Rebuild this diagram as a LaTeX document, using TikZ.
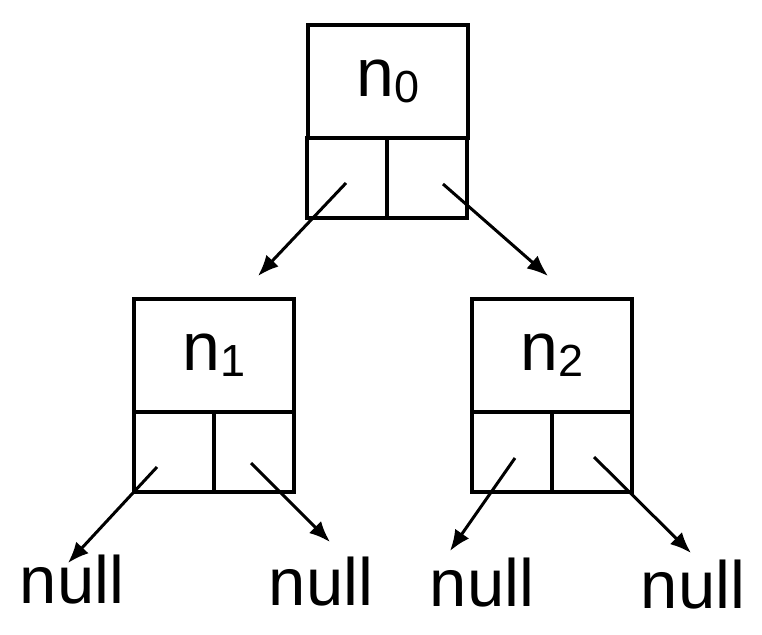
\documentclass[tikz,border=0pt]{standalone}
\usepackage{fontspec}
\setmainfont{Liberation Sans}
\usetikzlibrary{arrows.meta}

\begin{document}
\begin{tikzpicture}[x=1pt,y=-1pt,
  cell/.style={draw, line width=4pt, minimum width=80pt, minimum height=80pt, inner sep=0pt},
  keycell/.style={draw, line width=4pt, minimum width=160pt, minimum height=113pt, inner sep=0pt,
    font=\fontsize{68}{80}\selectfont},
  ptr/.style={line width=3pt, -{Latex[length=21pt,width=17pt]}},
  nulltext/.style={anchor=base, inner sep=0pt, font=\fontsize{67}{80}\selectfont}]
\useasboundingbox (0,0) rectangle (762,634);

%%Root
\node[keycell] (n0) at (388,81.5) {n\raisebox{-6pt}{\fontsize{45}{50}\selectfont 0}};
\node[cell] (n0l) at (347,178) {};
\node[cell] (n0r) at (427,178) {};

%%Left child
\node[keycell] (n1) at (214,355.5) {n\raisebox{-6pt}{\fontsize{45}{50}\selectfont 1}};
\node[cell] (n1l) at (174,452) {};
\node[cell] (n1r) at (254,452) {};

%%Right child
\node[keycell] (n2) at (552,355.5) {n\raisebox{-6pt}{\fontsize{45}{50}\selectfont 2}};
\node[cell] (n2l) at (512,452) {};
\node[cell] (n2r) at (592,452) {};

%%Leaves
\node[nulltext] (null1) at (72,603) {null};
\node[nulltext] (null2) at (321,605) {null};
\node[nulltext] (null3) at (482,606) {null};
\node[nulltext] (null4) at (693,608) {null};

%%Pointers
\draw[ptr] ([shift={(-1,5)}]n0l.center) -- ([shift={(44,-21)}]n1.north);
\draw[ptr] ([shift={(16,6)}]n0r.center) -- ([shift={(-4,-21)}]n2.north);
\draw[ptr] ([shift={(-17,15)}]n1l.center) -- ([shift={(-4,-40)}]null1.base);
\draw[ptr] ([shift={(-3,11)}]n1r.center) -- ([shift={(9,-63)}]null2.base);
\draw[ptr] ([shift={(3,6)}]n2l.center) -- ([shift={(-32,-55)}]null3.base);
\draw[ptr] ([shift={(2,5)}]n2r.center) -- ([shift={(-2,-55)}]null4.base);

\end{tikzpicture}
\end{document}
